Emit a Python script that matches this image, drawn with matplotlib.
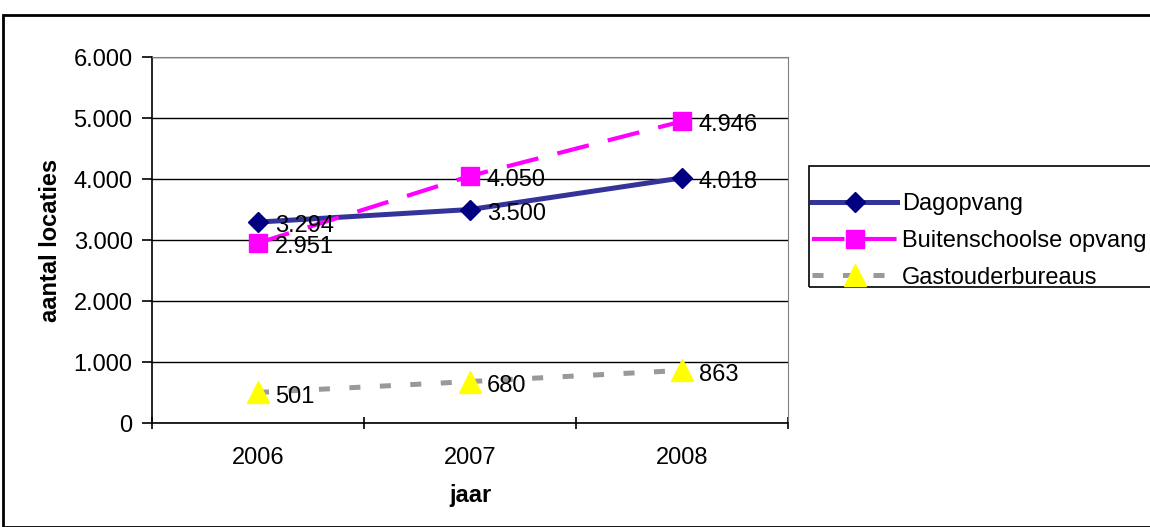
import matplotlib
matplotlib.use("Agg")
import matplotlib.pyplot as plt
from matplotlib.patches import Rectangle
from matplotlib.ticker import FixedLocator, FuncFormatter

plt.rcParams['font.family'] = ['Liberation Sans', 'DejaVu Sans']

# data
years = ["2006", "2007", "2008"]
dagopvang = [3294, 3500, 4018]
bso = [2951, 4050, 4946]
gastouder = [501, 680, 863]

FS = 17


def nl(v):
    return f"{int(v):,}".replace(",", ".")


fig = plt.figure(figsize=(11.5, 5.27), dpi=100)
ax = fig.add_axes([0.1322, 0.1973, 0.553, 0.6945])

x = range(len(years))
ax.plot(x, dagopvang, color="#333399", lw=3.6, marker="D", ms=10,
        mfc="#000080", mec="#000080", label="Dagopvang", zorder=4)
ax.plot(x, bso, color="#FF00FF", lw=3.0, dashes=(7.8, 4.7), marker="s", ms=13,
        mfc="#FF00FF", mec="#FF00FF", label="Buitenschoolse opvang", zorder=4)
ax.plot(x, gastouder, color="#999999", lw=3.6, dashes=(2.2, 3.9), marker="^",
        ms=16, mfc="#FFFF00", mec="#FFFF00", label="Gastouderbureaus", zorder=4)

for series in (dagopvang, bso, gastouder):
    for i, v in enumerate(series):
        ax.annotate(nl(v), (i, v), xytext=(12, -3), textcoords="offset points",
                    ha="left", va="center", fontsize=FS, zorder=5)

ax.set_xlim(-0.5, 2.5)
ax.set_ylim(0, 6000)
ax.set_yticks(range(0, 6001, 1000))
ax.yaxis.set_major_formatter(FuncFormatter(lambda v, p: nl(v)))
ax.yaxis.grid(True, color="black", lw=1)
ax.set_axisbelow(True)

ax.set_xticks(list(x))
ax.set_xticklabels(years)
ax.xaxis.set_minor_locator(FixedLocator([-0.5, 0.5, 1.5, 2.5]))
ax.tick_params(axis="x", which="major", length=0, pad=17, labelsize=FS)
ax.tick_params(axis="x", which="minor", length=8, width=1.2, direction="inout")
ax.tick_params(axis="y", length=7, width=1.2, labelsize=FS, pad=7)

for s in ("top", "right"):
    ax.spines[s].set_color("#808080")
for s in ("left", "bottom"):
    ax.spines[s].set_color("black")
    ax.spines[s].set_linewidth(1.2)

ax.set_xlabel("jaar", fontsize=FS, fontweight="bold", labelpad=11)
ax.set_ylabel("aantal locaties", fontsize=FS, fontweight="bold", labelpad=8)

# legend text without frame, box drawn separately (Excel-style offset)
leg = fig.legend(loc="upper left", bbox_to_anchor=(812 / 1150, 1 - 193 / 527),
                 frameon=False, fontsize=FS,
                 handlelength=3.6, handletextpad=0.2, borderpad=0,
                 labelspacing=0.63, borderaxespad=0)
fig.patches.append(Rectangle((809 / 1150, 1 - 287 / 527), 0.3, 121 / 527,
                             transform=fig.transFigure, fill=False,
                             edgecolor="black", lw=1.2, zorder=0))

fig.patches.append(Rectangle((3 / 1150, 0), 1.1, 1 - 15 / 527,
                             transform=fig.transFigure, fill=False,
                             edgecolor="black", lw=2, zorder=0))

fig.savefig("out.png", dpi=100)
